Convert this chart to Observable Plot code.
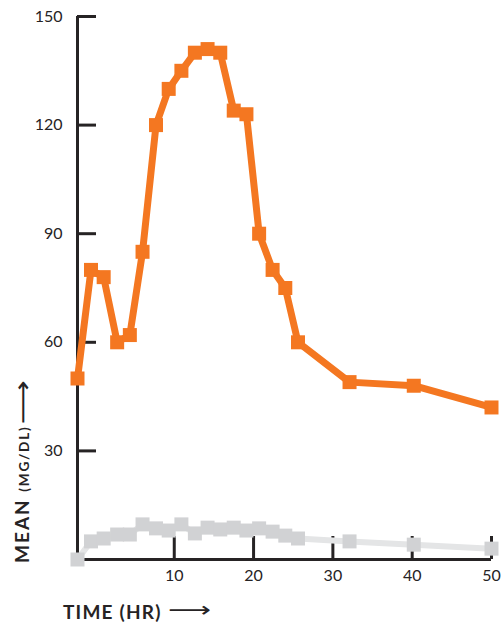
<!DOCTYPE html>
<html>
<head>
<meta charset="utf-8">
<script src="https://cdn.jsdelivr.net/npm/d3@7"></script>
<script src="https://cdn.jsdelivr.net/npm/@observablehq/plot@0.6"></script>
<style>
  html, body { margin: 0; padding: 0; background: #fff; }
</style>
</head>
<body>
<div id="chart"></div>
<script>
// Time (hr) of each sample, as placed along the x axis
const time = [-2.2, -0.5, 1.1, 2.8, 4.4, 6.0, 7.7, 9.3, 10.9, 12.6, 14.2, 15.8, 17.5, 19.1, 20.7, 22.4, 24.0, 25.6, 32.1, 40.2, 50];
// Mean (mg/dL), orange series
const meanOrange = [50, 80, 78, 60, 62, 85, 120, 130, 135, 140, 141, 140, 124, 123, 90, 80, 75, 60, 49, 48, 42];
// Mean (mg/dL), gray series
const meanGray = [0, 5.0, 5.8, 6.9, 6.9, 9.7, 8.6, 8.0, 9.7, 7.2, 8.8, 8.3, 8.8, 8.0, 8.6, 7.7, 6.6, 5.8, 5.0, 4.1, 3.0];
// Axis ticks
const xTicks = [10, 20, 30, 40, 50];
const yTicks = [30, 60, 90, 120, 150];
const xDomain = [-2.2, 50];
const yDomain = [0, 150];

const orange = time.map((t, i) => ({t, v: meanOrange[i]}));
const gray = time.map((t, i) => ({t, v: meanGray[i]}));

const ink = "#262324";
const chart = Plot.plot({
  width: 502,
  height: 622,
  marginLeft: 77,
  marginRight: 11,
  marginTop: 16,
  marginBottom: 63,
  style: {fontFamily: "Lato, sans-serif", fontSize: "16px", color: ink, background: "#fff", overflow: "visible"},
  x: {domain: xDomain, label: null},
  y: {domain: yDomain, label: null},
  marks: [
    Plot.axisY({ticks: yTicks, tickSize: -19, tickPadding: 34, strokeWidth: 3, strokeLinecap: "butt", tickFormat: d => d, fontSize: 16, label: null}),
    Plot.axisX({ticks: xTicks, tickSize: -23, tickPadding: 33, strokeWidth: 3, strokeLinecap: "butt", tickFormat: d => d, fontSize: 16, label: null}),
    Plot.ruleX([xDomain[0]], {stroke: ink, strokeWidth: 3}),
    Plot.ruleY([yDomain[0]], {stroke: ink, strokeWidth: 3}),
    Plot.line(gray, {x: "t", y: "v", stroke: "#e4e5e6", strokeWidth: 6}),
    Plot.dot(gray, {x: "t", y: "v", symbol: "square", r: 7.9, fill: "#d1d2d4", stroke: "none"}),
    Plot.line(orange, {x: "t", y: "v", stroke: "#f47721", strokeWidth: 7}),
    Plot.dot(orange, {x: "t", y: "v", symbol: "square", r: 7.9, fill: "#f47721", stroke: "none"})
  ]
});

const svg = d3.select(chart);
// Y axis title (rotated)
const yt = svg.append("text")
  .attr("transform", "translate(29,563) rotate(-90)")
  .attr("text-anchor", "start")
  .attr("fill", ink)
  .attr("font-family", "Lato, sans-serif")
  .attr("font-weight", "bold");
yt.append("tspan").attr("font-size", 19).attr("letter-spacing", 2).text("MEAN ");
yt.append("tspan").attr("font-size", 13.5).attr("letter-spacing", 1.8).text("(MG/DL)");
svg.append("text")
  .attr("transform", "translate(31,424) rotate(-90)")
  .attr("text-anchor", "start")
  .attr("fill", ink)
  .attr("font-family", "DejaVu Sans")
  .attr("font-size", 24)
  .attr("textLength", 44)
  .attr("lengthAdjust", "spacingAndGlyphs")
  .text("\u27F6");

// X axis title
svg.append("text")
  .attr("x", 63).attr("y", 619)
  .attr("text-anchor", "start")
  .attr("fill", ink)
  .attr("font-family", "Lato, sans-serif")
  .attr("font-weight", "bold")
  .attr("font-size", 19)
  .attr("letter-spacing", 1.2)
  .text("TIME (HR)");
svg.append("text")
  .attr("x", 168).attr("y", 617)
  .attr("text-anchor", "start")
  .attr("fill", ink)
  .attr("font-family", "DejaVu Sans")
  .attr("font-size", 21)
  .attr("textLength", 43)
  .attr("lengthAdjust", "spacingAndGlyphs")
  .text("\u27F6");

document.getElementById("chart").appendChild(chart);
</script>
</body>
</html>
